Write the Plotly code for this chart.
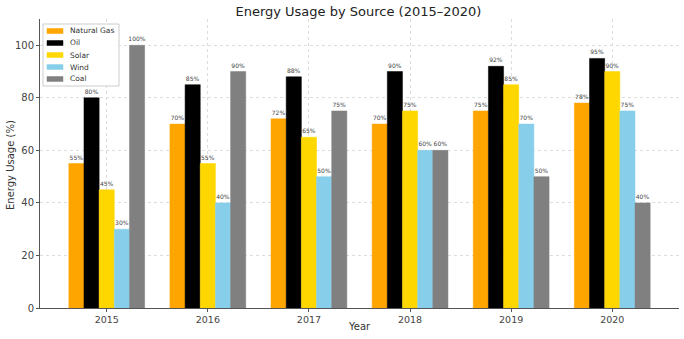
import plotly.graph_objects as go

years = ["2015", "2016", "2017", "2018", "2019", "2020"]
natural_gas = [55, 70, 72, 70, 75, 78]
oil = [80, 85, 88, 90, 92, 95]
solar = [45, 55, 65, 75, 85, 90]
wind = [30, 40, 50, 60, 70, 75]
coal = [100, 90, 75, 60, 50, 40]

series = [
    ("Natural Gas", natural_gas, "#FFA500"),
    ("Oil", oil, "#000000"),
    ("Solar", solar, "#FFD700"),
    ("Wind", wind, "#87CEEB"),
    ("Coal", coal, "#808080"),
]

W, H = 684, 339
ML, MR, MT, MB = 40, 5, 19, 31
PW, PH = W - ML - MR, H - MT - MB


def px_x(x):
    return (x - ML) / PW


def px_y(y):
    return 1 - (y - MT) / PH


fig = go.Figure()
for name, vals, color in series:
    fig.add_trace(go.Bar(
        x=years, y=vals, name=name,
        marker=dict(color=color, line=dict(color=color, width=0.5)),
        text=[f"{v}%" for v in vals],
        textposition="outside",
        textfont=dict(size=6, color="#444444", family="DejaVu Sans"),
        cliponaxis=False,
        showlegend=False,
    ))

# custom compact legend (matplotlib style)
shapes = [dict(type="rect", xref="paper", yref="paper",
               x0=px_x(43), x1=px_x(119), y0=px_y(86), y1=px_y(24),
               fillcolor="rgba(255,255,255,0.9)", line=dict(color="#cccccc", width=1),
               layer="above")]
annotations = []
for i, (name, vals, color) in enumerate(series):
    cy = 31 + 12 * i
    shapes.append(dict(type="rect", xref="paper", yref="paper",
                       x0=px_x(47), x1=px_x(63), y0=px_y(cy + 2.5), y1=px_y(cy - 2.5),
                       fillcolor=color, line=dict(color=color, width=0.5), layer="above"))
    annotations.append(dict(text=name, xref="paper", yref="paper",
                            x=px_x(68), y=px_y(cy), xanchor="left", yanchor="middle",
                            showarrow=False, font=dict(size=7.5, color="#333333")))

# axis titles
annotations.append(dict(text="Year", xref="paper", yref="paper",
                        x=px_x(359), y=px_y(327), xanchor="center", yanchor="middle",
                        showarrow=False, font=dict(size=10, color="#333333")))
annotations.append(dict(text="Energy Usage (%)", xref="paper", yref="paper",
                        x=px_x(10), y=px_y(165), xanchor="center", yanchor="middle",
                        textangle=-90, showarrow=False, font=dict(size=10, color="#333333")))

fig.update_layout(
    width=W, height=H,
    margin=dict(l=ML, r=MR, t=MT, b=MB),
    paper_bgcolor="white", plot_bgcolor="white",
    barmode="group", bargap=0.25, bargroupgap=0,
    font=dict(family="DejaVu Sans", size=10, color="#333333"),
    title=dict(text="Energy Usage by Source (2015–2020)", x=0.524, xanchor="center",
               y=0.965, yanchor="middle", font=dict(size=13, color="#222222")),
    shapes=shapes,
    annotations=annotations,
    uniformtext=dict(minsize=6, mode="show"),
)
fig.update_xaxes(
    type="category", range=[-0.66, 5.66], automargin=False,
    showline=True, linecolor="#555555", linewidth=1,
    ticks="outside", ticklen=3, tickcolor="#555555",
    showgrid=True, gridcolor="#dddddd", griddash="dot", gridwidth=1,
    tickfont=dict(size=9.5, color="#444444"),
)
fig.update_yaxes(
    range=[0, 110], tickvals=[0, 20, 40, 60, 80, 100], automargin=False,
    showline=True, linecolor="#555555", linewidth=1,
    ticks="outside", ticklen=3, tickcolor="#555555",
    showgrid=True, gridcolor="#dddddd", griddash="dot", gridwidth=1,
    zeroline=False,
    tickfont=dict(size=10, color="#444444"),
)

fig.write_html("out.html")
